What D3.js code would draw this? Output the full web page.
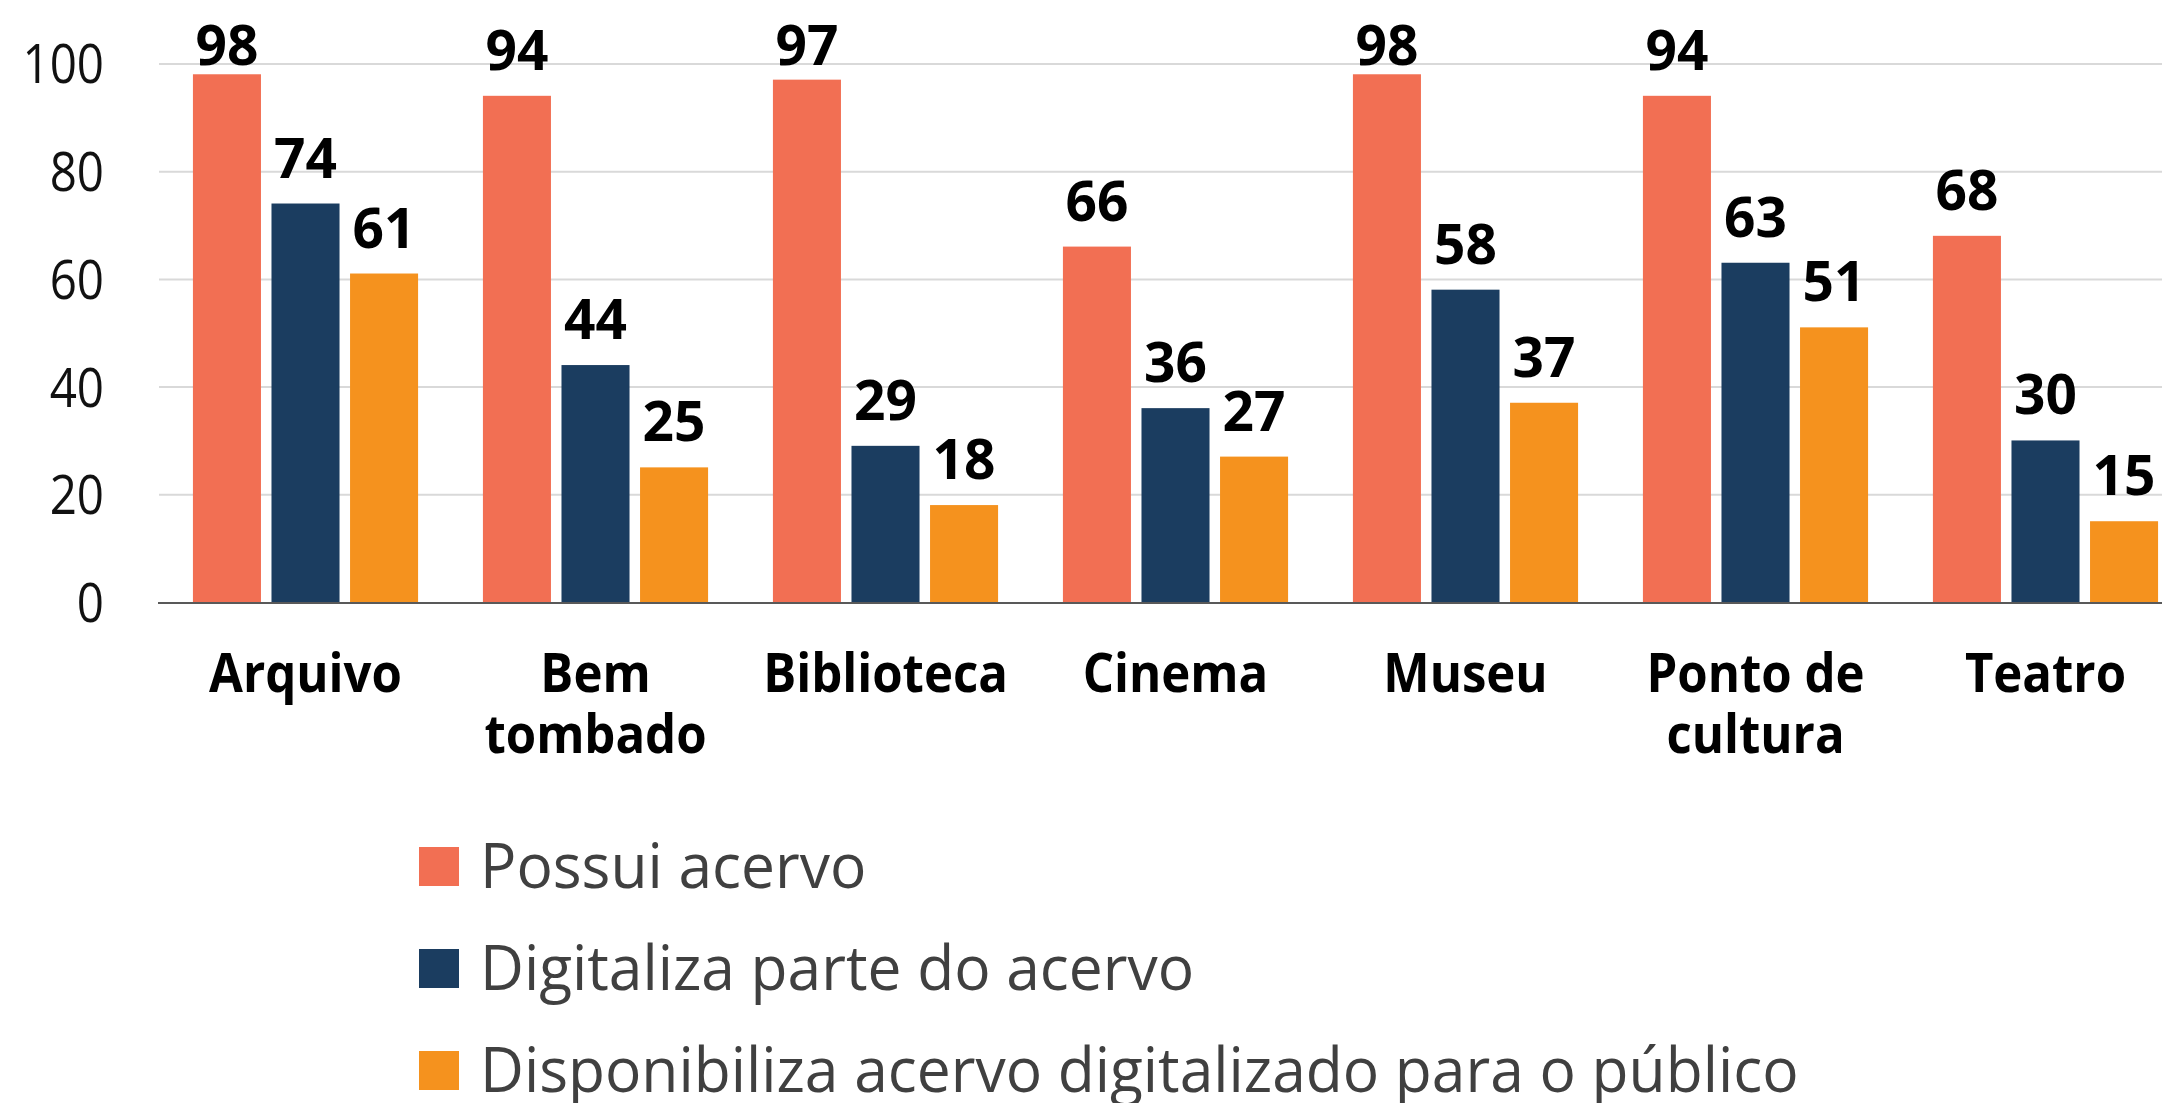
<!DOCTYPE html>
<html>
<head>
<meta charset="utf-8">
<script src="https://cdn.jsdelivr.net/npm/d3@7"></script>
<style>
  body { margin: 0; background: #fff; }
  svg { display: block; }
</style>
</head>
<body>
<div id="chart"></div>
<script>
// data
const categories = ["Arquivo", "Bem tombado", "Biblioteca", "Cinema", "Museu", "Ponto de cultura", "Teatro"]
const categoryLines = [["Arquivo"], ["Bem", "tombado"], ["Biblioteca"], ["Cinema"], ["Museu"], ["Ponto de", "cultura"], ["Teatro"]]
const seriesNames = ["Possui acervo", "Digitaliza parte do acervo", "Disponibiliza acervo digitalizado para o público"]
const possui = [98, 94, 97, 66, 98, 94, 68]
const digitaliza = [74, 44, 29, 36, 58, 63, 30]
const disponibiliza = [61, 25, 18, 27, 37, 51, 15]
const yTicks = [0, 20, 40, 60, 80, 100]
const colors = ["#F26F53", "#1B3D60", "#F5921E"]

const seriesValues = [possui, digitaliza, disponibiliza]

// sizes
const width = 2162
const height = 1103
const margin = { top: 63.5, left: 159, right: -30 }
const plotBottom = 602

const svg = d3.select("#chart").append("svg")
    .attr("width", width).attr("height", height)

// scales
const x0 = d3.scaleBand()
    .domain(categories)
    .range([margin.left, width - margin.right])
    .paddingInner(0.2236)
    .paddingOuter(0.117)

const x1 = d3.scaleBand()
    .domain([0, 1, 2])
    .range([0, x0.bandwidth()])
    .paddingInner(0.134)
    .paddingOuter(0)

const y = d3.scaleLinear().domain([0, 100]).range([plotBottom, margin.top])

// gridlines
const grid = svg.append("g")
    .attr("transform", `translate(${margin.left}, 0)`)
    .call(d3.axisLeft(y).tickValues(yTicks.slice(1)).tickSize(-(width - margin.left)).tickFormat(""))
grid.select(".domain").remove()
grid.selectAll("line").attr("stroke", "#d9d9d9").attr("stroke-width", 2)

// y labels
const yAxis = svg.append("g")
    .attr("transform", `translate(${margin.left}, 0)`)
    .call(d3.axisLeft(y).tickValues(yTicks).tickSize(0))
yAxis.select(".domain").remove()
yAxis.selectAll("text")
    .attr("x", 0)
    .attr("transform", "translate(-55, 0) scale(0.88, 1)")
    .attr("font-family", "Open Sans")
    .attr("font-size", 54)
    .attr("fill", "#111")
    .attr("dy", "0.36em")

// bars
const rows = categories.map((c, i) => ({ cat: c, vals: seriesValues.map(s => s[i]) }))

const groups = svg.selectAll(".grp").data(rows).enter().append("g")
    .attr("class", "grp")
    .attr("transform", d => `translate(${x0(d.cat)}, 0)`)

groups.selectAll("rect").data(d => d.vals).enter().append("rect")
    .attr("x", (d, i) => x1(i))
    .attr("y", d => y(d))
    .attr("width", x1.bandwidth())
    .attr("height", d => plotBottom - y(d))
    .attr("fill", (d, i) => colors[i])

// value labels sit above bars, but are kept inside the top of the chart
groups.selectAll(".val").data(d => d.vals).enter().append("text")
    .attr("class", "val")
    .attr("x", (d, i) => x1(i) + x1.bandwidth() / 2)
    .attr("y", d => Math.max(y(d) - 26, 65))
    .attr("text-anchor", "middle")
    .attr("font-family", "Open Sans")
    .attr("font-weight", "bold")
    .attr("font-size", 55)
    .attr("fill", "#000")
    .text(d => d)

// baseline
svg.append("line")
    .attr("x1", margin.left - 1).attr("x2", width)
    .attr("y1", plotBottom + 1).attr("y2", plotBottom + 1)
    .attr("stroke", "#595959").attr("stroke-width", 2)

// category labels
categories.forEach((c, i) => {
    const cx = x0(c) + x0.bandwidth() / 2
    const t = svg.append("text")
        .attr("transform", `translate(${cx}, 692) scale(0.91, 1)`)
        .attr("text-anchor", "middle")
        .attr("font-family", "Open Sans")
        .attr("font-weight", "bold")
        .attr("font-size", 54)
        .attr("fill", "#000")
    categoryLines[i].forEach((line, j) => {
        t.append("tspan").attr("x", 0).attr("y", j * 61).text(line)
    })
})

// legend
const legend = svg.append("g").attr("transform", "translate(419, 888)")
seriesNames.forEach((name, i) => {
    const g = legend.append("g").attr("transform", `translate(0, ${i * 102})`)
    g.append("rect")
        .attr("x", 0).attr("y", -41)
        .attr("width", 40).attr("height", 39)
        .attr("fill", colors[i])
    g.append("text")
        .attr("transform", "translate(61, 0) scale(0.96, 1)")
        .attr("font-family", "Open Sans")
        .attr("font-weight", 400)
        .attr("font-size", 63)
        .attr("fill", "#404040")
        .text(name)
})
</script>
</body>
</html>
